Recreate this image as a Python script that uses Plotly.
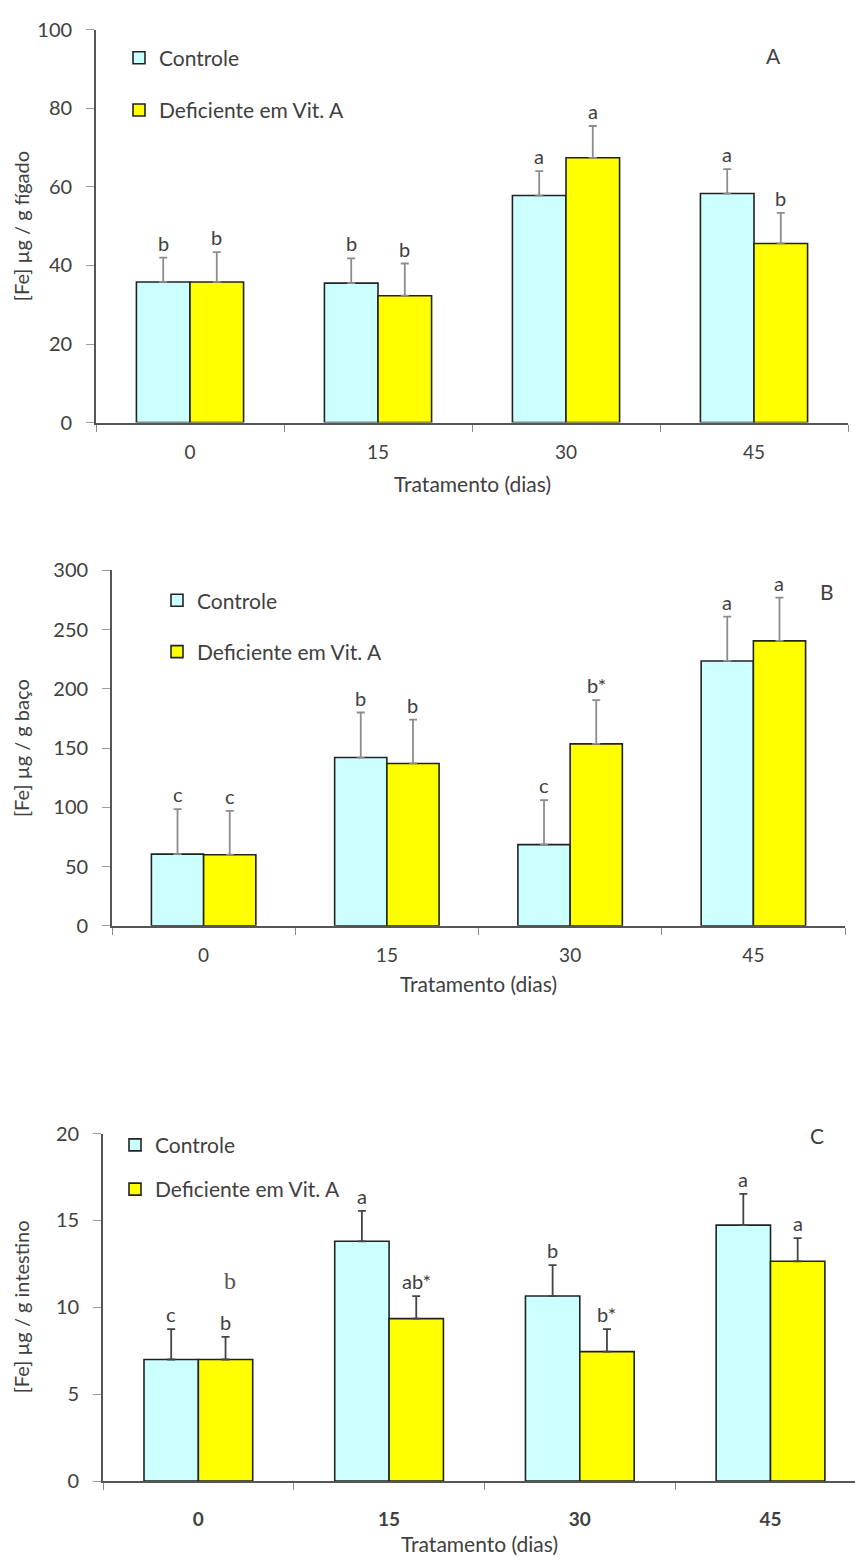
import plotly.graph_objects as go

# ---------------- data ----------------
categories = ["0", "15", "30", "45"]
series_names = ["Controle", "Deficiente em Vit. A"]

# Panel A - fígado
a_ctrl = [35.8, 35.5, 57.8, 58.3]
a_ctrl_err = [6.2, 6.3, 6.2, 6.2]
a_def = [35.8, 32.3, 67.4, 45.6]
a_def_err = [7.6, 8.2, 8.1, 7.8]
a_ctrl_lbl = ["b", "b", "a", "a"]
a_def_lbl = ["b", "b", "a", "b"]

# Panel B - baço
b_ctrl = [60.5, 142.0, 68.5, 223.5]
b_ctrl_err = [38.0, 38.0, 37.5, 37.5]
b_def = [60.0, 137.0, 153.5, 240.5]
b_def_err = [37.0, 37.0, 37.0, 36.5]
b_ctrl_lbl = ["c", "b", "c", "a"]
b_def_lbl = ["c", "b", "b*", "a"]

# Panel C - intestino
c_ctrl = [7.0, 13.8, 10.65, 14.73]
c_ctrl_err = [1.75, 1.75, 1.78, 1.8]
c_def = [7.0, 9.35, 7.45, 12.65]
c_def_err = [1.3, 1.3, 1.3, 1.33]
c_ctrl_lbl = ["c", "a", "b", "a"]
c_def_lbl = ["b", "ab*", "b*", "a"]

# ---------------- style ----------------
CYAN = "#CCFFFF"
YELLOW = "#FFFF00"
OUTLINE = "#222222"
TXT = "#404040"
FONT = "Lato"
BARGAP = 0.43
OFF = (1 - BARGAP) / 4.0

W, H = 855, 1566

panels = [
    dict(ctrl=a_ctrl, ce=a_ctrl_err, d=a_def, de=a_def_err, cl=a_ctrl_lbl, dl=a_def_lbl,
         xdom=[96 / W, 848 / W], ydom=[1 - 416 / H, 1 - 17 / H], yr=[0, 100], dt=20,
         xr=[-0.5, 3.5], ecol="#8c8c8c", ytitle="[Fe] µg / g fígado", tag="A",
         tagpos=(773, 43), leg=(119, 25), legap=22, bold=False,
         ttl_y=478, tick_sh=12),
    dict(ctrl=b_ctrl, ce=b_ctrl_err, d=b_def, de=b_def_err, cl=b_ctrl_lbl, dl=b_def_lbl,
         xdom=[112 / W, 845 / W], ydom=[1 - 927 / H, 1 - 566 / H], yr=[0, 300], dt=50,
         xr=[-0.5, 3.5], ecol="#8c8c8c", ytitle="[Fe] µg / g baço", tag="B",
         tagpos=(827, 587), leg=(157, 576), legap=21, bold=False,
         ttl_y=986, tick_sh=12),
    dict(ctrl=c_ctrl, ce=c_ctrl_err, d=c_def, de=c_def_err, cl=c_ctrl_lbl, dl=c_def_lbl,
         xdom=[103 / W, 1.0], ydom=[1 - 1491 / H, 1 - 1138 / H], yr=[0, 20], dt=5,
         xr=[-0.5, 3.443], ecol="#444444", ytitle="[Fe] µg / g intestino", tag="C",
         tagpos=(817, 1140), leg=(115, 1129), legap=14, bold=True,
         ttl_y=1554, tick_sh=20),
]

fig = go.Figure()
annotations = []
layout = dict(
    width=W, height=H, margin=dict(l=0, r=0, t=0, b=0),
    paper_bgcolor="white", plot_bgcolor="white",
    barmode="group", bargap=BARGAP, bargroupgap=0,
    font=dict(family=FONT, color=TXT, size=18),
    showlegend=True,
)

for i, p in enumerate(panels):
    n = "" if i == 0 else str(i + 1)
    xa, ya = "x" + n, "y" + n
    legname = "legend" + n
    for sname, vals, errs, col in [(series_names[0], p["ctrl"], p["ce"], CYAN),
                                   (series_names[1], p["d"], p["de"], YELLOW)]:
        fig.add_trace(go.Bar(
            x=categories, y=vals, name=sname, xaxis=xa, yaxis=ya,
            marker=dict(color=col, line=dict(color=OUTLINE, width=1.6)),
            error_y=dict(type="data", symmetric=False, array=errs,
                         arrayminus=[0] * len(errs), color=p["ecol"],
                         thickness=1.8, width=4),
            legend=legname, legendgroup=sname + n, offsetgroup=sname,
        ))
    # significance letters
    for j in range(len(categories)):
        for lbl, vals, errs, sgn in [(p["cl"], p["ctrl"], p["ce"], -1),
                                     (p["dl"], p["d"], p["de"], 1)]:
            annotations.append(dict(
                x=j + sgn * OFF, y=vals[j] + errs[j], xref=xa, yref=ya,
                text=lbl[j], showarrow=False, xanchor="center", yanchor="bottom",
                yshift=1, font=dict(family=FONT, size=20, color=TXT)))
    # panel tag
    annotations.append(dict(
        x=p["tagpos"][0] / W, y=1 - p["tagpos"][1] / H, xref="paper", yref="paper",
        text=p["tag"], showarrow=False, xanchor="center", yanchor="middle",
        font=dict(family=FONT, size=21, color=TXT)))
    # y title
    annotations.append(dict(
        x=21 / W, y=0.5, xref="paper", yref=ya + " domain", text=p["ytitle"],
        textangle=-90, showarrow=False, xanchor="center", yanchor="middle",
        font=dict(family=FONT, size=20, color=TXT)))
    # x title
    annotations.append(dict(
        x=0.5, y=1 - p["ttl_y"] / H, xref=xa + " domain", yref="paper",
        text="Tratamento (dias)", showarrow=False, xanchor="center", yanchor="middle",
        font=dict(family=FONT, size=21, color=TXT)))

    layout["xaxis" + n] = dict(
        domain=p["xdom"], anchor=ya, type="category", range=p["xr"],
        showline=True, linecolor="#555555", linewidth=1.8,
        ticks="outside", tickson="boundaries", ticklen=7, tickcolor="#888888",
        ticklabelstandoff=p["tick_sh"],
        tickfont=dict(family=FONT, size=19, color=TXT,
                      weight="bold" if p["bold"] else "normal"),
        showgrid=False, zeroline=False, fixedrange=True)
    layout["yaxis" + n] = dict(
        domain=p["ydom"], anchor=xa, range=p["yr"], dtick=p["dt"], tick0=0,
        showline=True, linecolor="#555555", linewidth=1.8,
        ticks="outside", ticklen=8, tickcolor="#999999", ticklabelstandoff=10,
        tickfont=dict(family=FONT, size=20, color=TXT),
        showgrid=False, zeroline=False)
    layout[legname] = dict(
        x=p["leg"][0] / W, y=1 - p["leg"][1] / H, xanchor="left", yanchor="top",
        bgcolor="rgba(0,0,0,0)", tracegroupgap=p["legap"],
        font=dict(family=FONT, size=21, color=TXT))

# stray serif letter in panel C
c_extra_lbl = ["b"]
c_extra_pos = [(0.165, 11.5)]
for t, (xx, yy) in zip(c_extra_lbl, c_extra_pos):
    annotations.append(dict(x=xx, y=yy, xref="x3", yref="y3", text=t, showarrow=False,
                            font=dict(family="Liberation Serif", size=24, color="#555555")))

layout["annotations"] = annotations
fig.update_layout(**layout)
fig.write_html("out.html")
